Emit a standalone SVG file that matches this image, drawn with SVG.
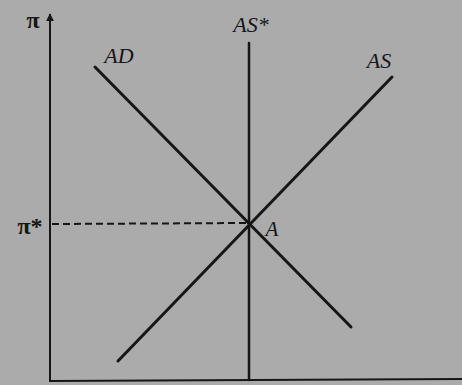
<svg xmlns="http://www.w3.org/2000/svg" width="462" height="385" viewBox="0 0 462 385">
<style>
.ln{stroke:#161616;fill:none;stroke-linecap:round}
.ax{stroke:#161616;stroke-width:2;fill:none}
.t{font-family:'Liberation Serif','DejaVu Serif',serif;fill:#161616}
.it{font-style:italic}
.pi{font-size:24px;font-weight:bold}
</style>
<defs>
<marker id="arr" viewBox="0 0 10 10" refX="9" refY="5" markerWidth="8" markerHeight="8" markerUnits="userSpaceOnUse" orient="auto">
<path d="M0,0 L10,5 L0,10 Z" fill="#161616"/>
</marker>
</defs>
<rect width="462" height="385" fill="#ababab"/>
<g id="axes">
<line class="ax" x1="50" y1="382" x2="50" y2="14" marker-end="url(#arr)"/>
<line class="ax" x1="49" y1="381" x2="462" y2="379"/>
</g>
<g id="connectors">
<line id="AD" class="ln" stroke-width="3" x1="95" y1="67" x2="351" y2="327"/>
<line id="AS" class="ln" stroke-width="3" x1="118" y1="361" x2="392" y2="77"/>
<line id="ASstar" class="ln" stroke-width="2.5" x1="249" y1="43" x2="249" y2="380"/>
<line id="dash" stroke="#161616" stroke-width="2" stroke-dasharray="7,4" x1="52" y1="224" x2="247" y2="223"/>
</g>
<g id="labels">
<text class="t pi" x="33" y="28" text-anchor="middle">π</text>
<text class="t it" x="119" y="63" font-size="22" text-anchor="middle">AD</text>
<text class="t it" x="251" y="32" font-size="22" text-anchor="middle">AS*</text>
<text class="t it" x="379" y="68" font-size="22" text-anchor="middle">AS</text>
<text class="t pi" x="30" y="234" text-anchor="middle">π*</text>
<text class="t it" x="272" y="236" font-size="21" text-anchor="middle">A</text>
</g>
</svg>
